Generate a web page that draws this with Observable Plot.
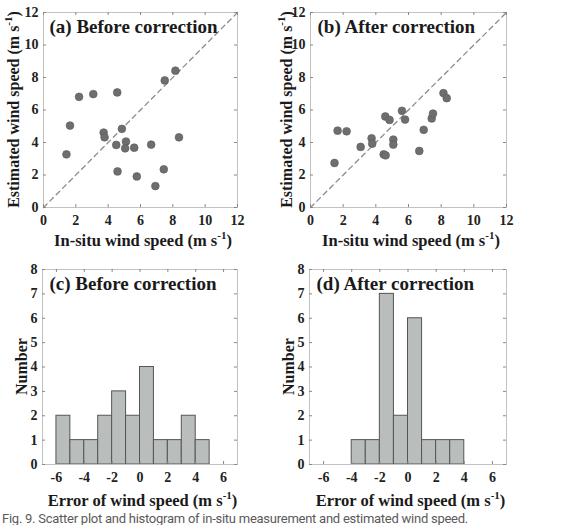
<!DOCTYPE html>
<html><head><meta charset="utf-8">
<script src="https://cdn.jsdelivr.net/npm/d3@7"></script>
<script src="https://cdn.jsdelivr.net/npm/@observablehq/plot@0.6"></script>
<style>
body{margin:0;width:568px;height:525px;overflow:hidden;background:#fff;position:relative}
.panel{position:absolute}
#caption{position:absolute;left:2px;top:511px;font-family:Roboto,"Noto Sans",sans-serif;font-size:13px;color:#5a5a5a;white-space:nowrap}
</style></head><body>
<div id="pa" class="panel" style="left:0;top:0"></div>
<div id="pb" class="panel" style="left:260px;top:0"></div>
<div id="pc" class="panel" style="left:0;top:250px"></div>
<div id="pd" class="panel" style="left:260px;top:250px"></div>
<div id="caption">Fig. 9. Scatter plot and histogram of in-situ measurement and estimated wind speed.</div>
<script>
// In-situ vs estimated wind speed (m/s), before correction
const insituBefore = [2.20, 3.08, 4.56, 7.50, 8.16, 1.64, 3.72, 3.78, 4.85, 5.10, 4.50, 5.05, 5.61, 6.66, 8.38, 1.42, 4.58, 5.77, 7.44, 6.92];
const estBefore    = [6.81, 6.98, 7.08, 7.82, 8.42, 5.04, 4.61, 4.32, 4.84, 4.06, 3.85, 3.64, 3.68, 3.87, 4.32, 3.27, 2.22, 1.91, 2.35, 1.32];
// In-situ vs estimated wind speed (m/s), after correction
const insituAfter = [1.47, 1.66, 2.21, 3.07, 3.74, 3.78, 4.48, 4.60, 4.58, 4.84, 5.07, 5.07, 5.60, 5.79, 6.66, 6.93, 7.42, 7.50, 8.14, 8.34];
const estAfter    = [2.74, 4.73, 4.69, 3.73, 4.26, 3.93, 3.27, 3.21, 5.60, 5.39, 4.18, 3.87, 5.95, 5.41, 3.48, 4.78, 5.48, 5.78, 7.04, 6.73];
// Error histograms (bin lower edges, bin width 1 m/s)
const binLoBefore = [-6, -5, -4, -3, -2, -1, 0, 1, 2, 3, 4];
const countBefore = [2, 1, 1, 2, 3, 2, 4, 1, 1, 2, 1];
const binLoAfter = [-4, -3, -2, -1, 0, 1, 2, 3];
const countAfter = [1, 1, 7, 2, 6, 1, 1, 1];
// Axis ticks
const speedTicks = [0, 2, 4, 6, 8, 10, 12];
const errTicks = [-6, -4, -2, 0, 2, 4, 6];
const countTicks = [0, 1, 2, 3, 4, 5, 6, 7, 8];
const diagonal = [0, 12];

const FONT = "'Liberation Serif', 'Times New Roman', serif";

function panel(o) {
  const innerW = o.width - o.mL - o.mR;
  const innerH = o.height - o.mT - o.mB;
  const tickLen = 3;
  const svg = Plot.plot({
    width: o.width, height: o.height,
    marginLeft: o.mL, marginRight: o.mR, marginTop: o.mT, marginBottom: o.mB,
    style: {fontFamily: FONT, fontSize: "14px", fontWeight: "bold", color: "#222", background: "white"},
    x: {domain: o.xDomain},
    y: {domain: o.yDomain},
    marks: [
      ...o.marks,
      Plot.frame({stroke: "#c2c2c2"}),
      Plot.tickX(o.xTicks, {x: d => d, insetTop: innerH - tickLen, stroke: "#888"}),
      Plot.tickX(o.xTicks, {x: d => d, insetBottom: innerH - tickLen, stroke: "#888"}),
      Plot.tickY(o.yTicks, {y: d => d, insetRight: innerW - tickLen, stroke: "#888"}),
      Plot.tickY(o.yTicks, {y: d => d, insetLeft: innerW - tickLen, stroke: "#888"}),
      Plot.axisX({ticks: o.xTicks, tickSize: 0, tickPadding: 8, label: null, fill: "#222", tickFormat: d => String(d)}),
      Plot.axisY({ticks: o.yTicks, tickSize: 0, tickPadding: 5, label: null, fill: "#222", tickFormat: d => String(d)}),
      Plot.text([o.title], {text: d => d, frameAnchor: "top-left", textAnchor: "start", lineAnchor: "middle",
        dx: o.titleDx, dy: o.titleDy, fontSize: 19, fontWeight: "bold", fill: "#1a1a1a"})
    ]
  });
  const s = d3.select(svg);
  // x-axis label with superscript unit
  const xl = s.append("text")
    .attr("x", o.mL + innerW / 2 + 3).attr("y", o.xLabelY)
    .attr("text-anchor", "middle").attr("font-size", 16.5).attr("font-weight", "bold").attr("fill", "#1a1a1a");
  xl.append("tspan").text(o.xLabel + " (m s");
  xl.append("tspan").attr("dy", -7).attr("font-size", 11).text("-1");
  xl.append("tspan").attr("dy", 7).text(")");
  // y-axis label, rotated
  const yl = s.append("text")
    .attr("transform", `translate(${o.yLabelX},${o.mT + innerH / 2}) rotate(-90)`)
    .attr("text-anchor", "middle").attr("font-size", 16).attr("font-weight", "bold").attr("fill", "#1a1a1a");
  if (o.yUnit) {
    yl.append("tspan").text(o.yLabel + " (m s");
    yl.append("tspan").attr("dy", -7).attr("font-size", 11).text("-1");
    yl.append("tspan").attr("dy", 7).text(")");
  } else {
    yl.text(o.yLabel);
  }
  document.getElementById(o.el).append(svg);
}

function scatterMarks(xs, ys) {
  return [
    Plot.line(diagonal, {x: d => d, y: d => d, stroke: "#8c8c8c", strokeWidth: 1.3, strokeDasharray: "5,4"}),
    Plot.dot(xs, {x: d => d, y: (d, i) => ys[i], r: 3.9, fill: "#6e6e6e", stroke: "#5a5a5a", strokeWidth: 0.6})
  ];
}

function histMarks(lo, counts) {
  return [
    Plot.rectY(lo, {x1: d => d, x2: d => d + 1, y1: 0, y2: (d, i) => counts[i], fill: "#b9bdbb", stroke: "#555", strokeWidth: 1})
  ];
}

panel({el: "pa", width: 260, height: 250, mL: 43, mR: 23, mT: 12, mB: 43,
  xDomain: [0, 12], yDomain: [0, 12], xTicks: speedTicks, yTicks: speedTicks,
  marks: scatterMarks(insituBefore, estBefore), title: "(a) Before correction", titleDx: 6, titleDy: 14,
  xLabel: "In-situ wind speed", xLabelY: 246, yLabel: "Estimated wind speed", yUnit: true, yLabelX: 19});

panel({el: "pb", width: 260, height: 250, mL: 50, mR: 14, mT: 12, mB: 43,
  xDomain: [0, 12], yDomain: [0, 12], xTicks: speedTicks, yTicks: speedTicks,
  marks: scatterMarks(insituAfter, estAfter), title: "(b) After correction", titleDx: 7, titleDy: 14,
  xLabel: "In-situ wind speed", xLabelY: 246, yLabel: "Estimated wind speed", yUnit: true, yLabelX: 32});

panel({el: "pc", width: 260, height: 262, mL: 42, mR: 23, mT: 19, mB: 48,
  xDomain: [-7, 7], yDomain: [0, 8], xTicks: errTicks, yTicks: countTicks,
  marks: histMarks(binLoBefore, countBefore), title: "(c) Before correction", titleDx: 7, titleDy: 14,
  xLabel: "Error of wind speed", xLabelY: 256, yLabel: "Number", yUnit: false, yLabelX: 27});

panel({el: "pd", width: 260, height: 262, mL: 49, mR: 14, mT: 19, mB: 48,
  xDomain: [-7, 7], yDomain: [0, 8], xTicks: errTicks, yTicks: countTicks,
  marks: histMarks(binLoAfter, countAfter), title: "(d) After correction", titleDx: 7, titleDy: 14,
  xLabel: "Error of wind speed", xLabelY: 256, yLabel: "Number", yUnit: false, yLabelX: 34});

// Fit the caption to its line width
const cap = document.getElementById("caption");
const targetW = 466;
const w = cap.getBoundingClientRect().width;
cap.style.letterSpacing = ((targetW - w) / cap.textContent.length) + "px";
</script>
</body></html>
